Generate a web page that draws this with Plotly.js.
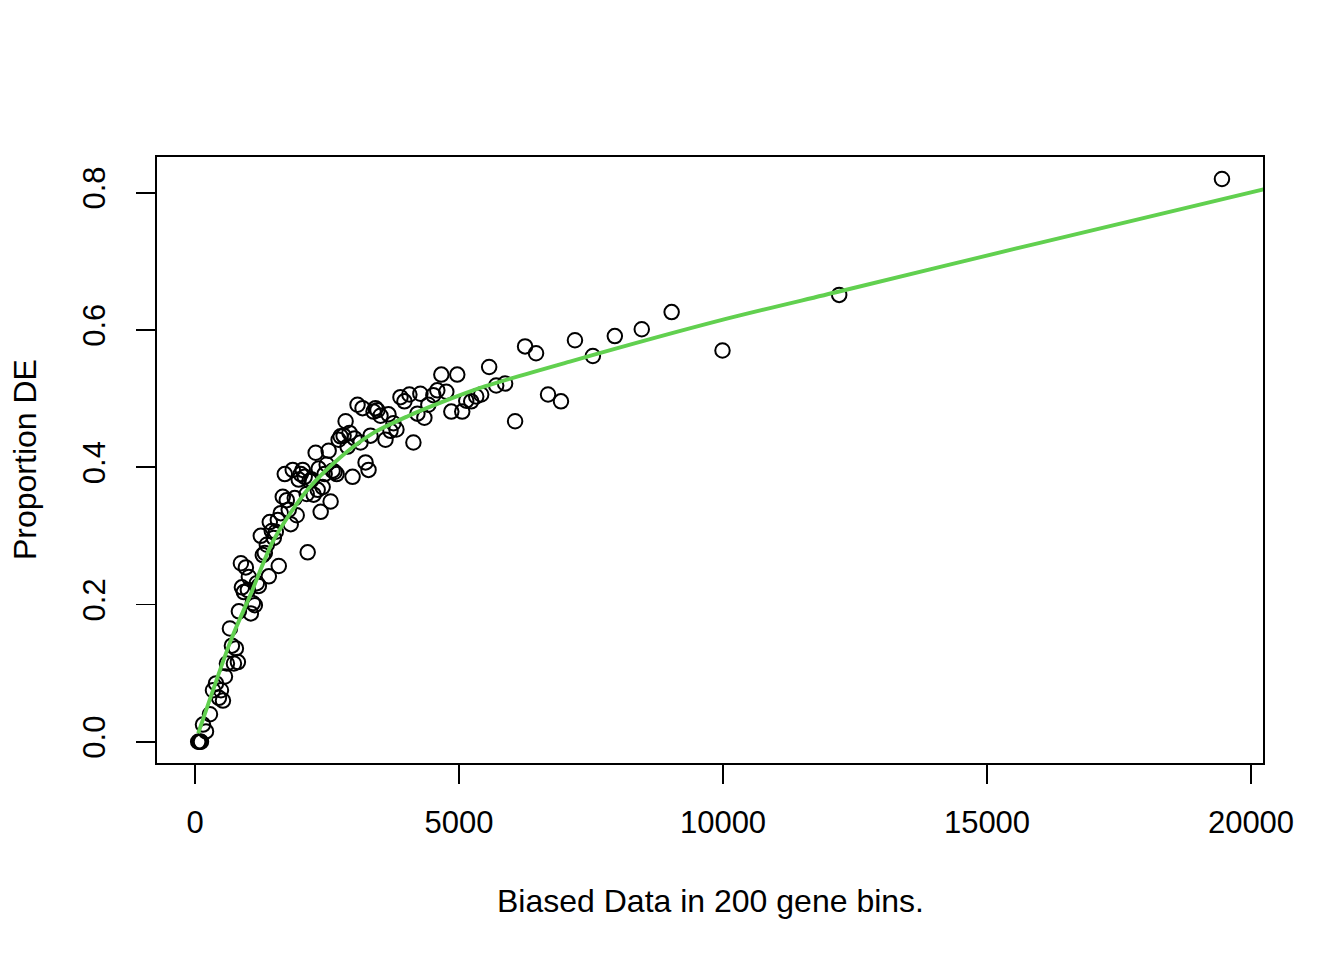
<!DOCTYPE html>
<html>
<head>
<meta charset="utf-8">
<script src="https://cdn.plot.ly/plotly-3.0.1.min.js"></script>
<style>html,body{margin:0;padding:0;background:#fff;}#chart{width:1344px;height:960px;}</style>
</head>
<body>
<div id="chart"></div>
<script>
// Observed points: bias data (x) vs proportion DE (y)
const binX = [60, 80, 100, 113,
  151, 208, 283, 340, 397, 453, 491, 529, 567, 604, 661, 699, 737, 774, 812, 831,
  869, 888, 925, 963, 1001, 1020, 1058, 1095, 1133, 1171, 1209, 1246, 1284, 1322, 1360, 1398,
  1416, 1454, 1492, 1530, 1568, 1586, 1624, 1662, 1700, 1738, 1775, 1813, 1851, 1889, 1926, 1964,
  2002, 2040, 2077, 2115, 2134, 2172, 2210, 2247, 2285, 2323, 2342, 2380, 2417, 2455, 2493, 2531,
  2568, 2606, 2644, 2682, 2720, 2757, 2814, 2852, 2889, 2927, 2984, 3022, 3078, 3135, 3173, 3230,
  3286, 3324, 3381, 3418, 3456, 3513, 3607, 3664, 3702, 3758, 3815, 3891, 3966, 4060, 4136, 4212,
  4268, 4344, 4419, 4514, 4589, 4665, 4759, 4854, 4967, 5061, 5137, 5231, 5326, 5420, 5571, 5704,
  5873, 6062, 6251, 6459, 6686, 6931, 7196, 7535, 7951, 8461, 9027, 9990, 12200, 19450];
const propDE = [0, 0, 0, 0,
  0.025, 0.015, 0.040, 0.075, 0.085, 0.064, 0.075, 0.060, 0.095, 0.114, 0.165, 0.140, 0.114, 0.136, 0.116, 0.190,
  0.260, 0.225, 0.218, 0.254, 0.221, 0.240, 0.187, 0.202, 0.199, 0.231, 0.227, 0.300, 0.272, 0.275, 0.287, 0.241,
  0.320, 0.307, 0.297, 0.306, 0.323, 0.256, 0.333, 0.357, 0.390, 0.352, 0.338, 0.317, 0.396, 0.355, 0.330, 0.382,
  0.390, 0.396, 0.386, 0.361, 0.276, 0.380, 0.382, 0.360, 0.421, 0.367, 0.398, 0.335, 0.371, 0.390, 0.404, 0.424,
  0.350, 0.395, 0.393, 0.390, 0.440, 0.445, 0.446, 0.467, 0.430, 0.450, 0.386, 0.442, 0.491, 0.436, 0.486, 0.407,
  0.396, 0.446, 0.481, 0.486, 0.483, 0.475, 0.440, 0.477, 0.453, 0.464, 0.455, 0.502, 0.496, 0.506, 0.436, 0.478,
  0.507, 0.472, 0.491, 0.505, 0.512, 0.535, 0.510, 0.481, 0.535, 0.481, 0.497, 0.496, 0.503, 0.506, 0.546, 0.519,
  0.522, 0.467, 0.576, 0.566, 0.506, 0.496, 0.585, 0.562, 0.591, 0.601, 0.626, 0.570, 0.651, 0.820];

// Fitted probability weighting function (green curve)
const fitX = [60, 680, 1060, 1490, 2130, 2760, 3380, 4020, 4650, 5500, 7100, 10000, 12200, 16000, 20300];
const fitY = [0.012, 0.148, 0.216, 0.294, 0.367, 0.415, 0.450, 0.474, 0.494, 0.518, 0.554, 0.615, 0.656, 0.727, 0.806];

const xTicks = [0, 5000, 10000, 15000, 20000];
const yTicks = [0.0, 0.2, 0.4, 0.6, 0.8];
const yTickText = ["0.0", "0.2", "0.4", "0.6", "0.8"];

const FONT = "Liberation Sans, Arial, Helvetica, sans-serif";

const traces = [
  {
    x: binX, y: propDE, type: "scatter", mode: "markers",
    marker: {symbol: "circle-open", size: 14.5, color: "#000", line: {color: "#000", width: 2}},
    hoverinfo: "x+y", showlegend: false
  },
  {
    x: fitX, y: fitY, type: "scatter", mode: "lines",
    line: {color: "#61D04F", width: 3.9, shape: "spline", smoothing: 0.8},
    showlegend: false, cliponaxis: true
  }
];

const layout = {
  width: 1344, height: 960,
  margin: {l: 157, r: 81, t: 157, b: 197, pad: 0},
  paper_bgcolor: "#fff", plot_bgcolor: "#fff",
  font: {family: FONT, size: 31, color: "#000"},
  xaxis: {
    range: [-720, 20227], tickvals: xTicks, ticktext: xTicks.map(String),
    ticks: "outside", ticklen: 19, tickwidth: 1.8, tickcolor: "#000",
    showline: true, linewidth: 1.8, linecolor: "#000", mirror: true,
    showgrid: false, zeroline: false, ticklabelstandoff: 12,
    tickfont: {family: FONT, size: 31, color: "#000"}
  },
  yaxis: {
    range: [-0.031, 0.852], tickvals: yTicks, ticktext: yTickText,
    ticks: "outside", ticklen: 19, tickwidth: 1.8, tickcolor: "#000",
    showline: true, linewidth: 1.8, linecolor: "#000", mirror: true,
    showgrid: false, zeroline: false, tickangle: -90, ticklabelstandoff: 19,
    tickfont: {family: FONT, size: 31, color: "#000"}
  },
  annotations: [
    {text: "Biased Data in 200 gene bins.", xref: "paper", yref: "paper",
     x: 0.5, y: -0.2277, xanchor: "center", yanchor: "middle", showarrow: false,
     font: {family: FONT, size: 32, color: "#000"}},
    {text: "Proportion DE", xref: "paper", yref: "paper",
     x: -0.1193, y: 0.5, xanchor: "center", yanchor: "middle", showarrow: false, textangle: -90,
     font: {family: FONT, size: 32, color: "#000"}}
  ]
};

Plotly.newPlot("chart", traces, layout, {displayModeBar: false, staticPlot: true});
</script>
</body>
</html>
